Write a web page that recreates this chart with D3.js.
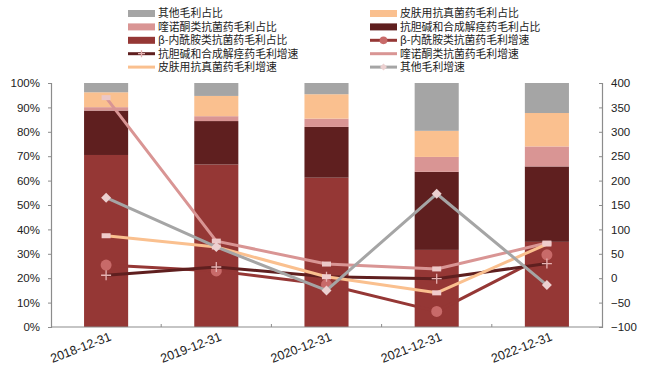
<!DOCTYPE html>
<html>
<head>
<meta charset="utf-8">
<script src="https://cdn.jsdelivr.net/npm/d3@7"></script>
<style>
  html, body { margin: 0; padding: 0; background: #fff; }
  svg { display: block; }
  text { font-family: "Liberation Sans", Arial, "Noto Sans CJK SC", sans-serif; fill: #222; }
  .cjk { font-family: "Noto Sans CJK SC", "Liberation Sans", sans-serif; }
</style>
</head>
<body>
<svg id="chart" width="648" height="367"></svg>
<script>
// Reporting periods
const categories = ["2018-12-31", "2019-12-31", "2020-12-31", "2021-12-31", "2022-12-31"];

// Gross-profit share by product line (%)
const shareBeta  = [70.5, 66.6, 61.2, 31.6, 34.9];
const shareAnti  = [18.2, 17.8, 20.8, 32.0, 30.9];
const shareQuin  = [1.4, 2.0, 3.4, 6.1, 8.2];
const shareSkin  = [6.1, 8.3, 10.0, 10.7, 13.7];
const shareOther = [3.8, 5.3, 4.6, 19.6, 12.3];

// Gross-profit growth by product line (%)
const growthBeta  = [27, 15, -13, -68, 48];
const growthAnti  = [6, 23, 3, -1, 30];
const growthQuin  = [370, 76, 29, 19, 72];
const growthSkin  = [87, 64, 3, -30, 70];
const growthOther = [165, 64, -25, 173, -14];

// Axis ticks
const leftTicks  = [0, 10, 20, 30, 40, 50, 60, 70, 80, 90, 100];
const rightTicks = [-100, -50, 0, 50, 100, 150, 200, 250, 300, 350, 400];

const barSeries = [
  { name: "β-内酰胺类抗菌药毛利占比", values: shareBeta,  color: "#953735" },
  { name: "抗胆碱和合成解痉药毛利占比", values: shareAnti,  color: "#5f1f1f" },
  { name: "喹诺酮类抗菌药毛利占比",   values: shareQuin,  color: "#d99594" },
  { name: "皮肤用抗真菌药毛利占比",   values: shareSkin,  color: "#fac08f" },
  { name: "其他毛利占比",             values: shareOther, color: "#a5a5a5" }
];

const lineSeries = [
  { name: "β-内酰胺类抗菌药毛利增速", values: growthBeta,  color: "#953735", marker: "circle",  mcolor: "#c86a69" },
  { name: "抗胆碱和合成解痉药毛利增速", values: growthAnti,  color: "#5f1f1f", marker: "plus",    mcolor: "#e6b2b2" },
  { name: "喹诺酮类抗菌药毛利增速",   values: growthQuin,  color: "#d99594", marker: "square",  mcolor: "#ecc8c8" },
  { name: "皮肤用抗真菌药毛利增速",   values: growthSkin,  color: "#fac08f", marker: "square",  mcolor: "#f0cccc" },
  { name: "其他毛利增速",             values: growthOther, color: "#a5a5a5", marker: "diamond", mcolor: "#ecd0d0" }
];

const svg = d3.select("#chart");
const m = { left: 51, right: 46, top: 83, bottom: 40 };
const W = 648, H = 367;
const x0 = m.left, x1 = W - m.right, y0 = H - m.bottom, y1 = m.top;

const xBand = d3.scaleBand().domain(categories).range([x0, x1]);
const yL = d3.scaleLinear().domain([0, 100]).range([y0, y1]);
const yR = d3.scaleLinear().domain([-100, 400]).range([y0, y1]);
const barW = xBand.bandwidth() * 0.4;

// Stacked bars
const stackData = categories.map((c, i) => {
  const row = { cat: c };
  barSeries.forEach(s => row[s.name] = s.values[i]);
  return row;
});
const stack = d3.stack().keys(barSeries.map(s => s.name))(stackData);
const barG = svg.append("g");
stack.forEach((layer, k) => {
  barG.selectAll(null).data(layer).enter().append("rect")
    .attr("x", d => xBand(d.data.cat) + xBand.bandwidth() / 2 - barW / 2)
    .attr("width", barW)
    .attr("y", d => yL(d[1]))
    .attr("height", d => yL(d[0]) - yL(d[1]))
    .attr("fill", barSeries[k].color);
});

// Axes
const axisColor = "#8c8c8c";
const gL = svg.append("g").attr("transform", `translate(${x0},0)`)
  .call(d3.axisLeft(yL).tickValues(leftTicks).tickFormat(d => d + "%").tickSize(3).tickPadding(8));
const gR = svg.append("g").attr("transform", `translate(${x1},0)`)
  .call(d3.axisRight(yR).tickValues(rightTicks).tickFormat(d3.format("d")).tickSize(-3).tickPadding(9));
const gB = svg.append("g").attr("transform", `translate(0,${y0})`)
  .call(d3.axisBottom(xBand).tickSize(0).tickFormat(""));
[gL, gR, gB].forEach(g => {
  g.select(".domain").attr("stroke", axisColor).attr("stroke-width", 1.2);
  g.selectAll(".tick line").attr("stroke", axisColor);
  g.selectAll("text").style("font-family", "'Liberation Sans', Arial, sans-serif")
    .style("font-size", "11.5px").attr("fill", "#222");
});
gB.select(".domain").attr("d", `M${x0},0H${x1}`);
// interior category separators on the baseline
svg.append("g").selectAll("line")
  .data(categories.slice(1)).enter().append("line")
  .attr("x1", d => xBand(d)).attr("x2", d => xBand(d))
  .attr("y1", y0).attr("y2", y0 - 3)
  .attr("stroke", axisColor);

// Rotated category labels
svg.append("g").selectAll("text")
  .data(categories).enter().append("text")
  .attr("transform", d => `translate(${xBand(d) + xBand.bandwidth() / 2 + 6},${y0 + 13}) rotate(-21)`)
  .attr("text-anchor", "end")
  .style("font-size", "12.5px")
  .attr("fill", "#333")
  .text(d => d);

// Growth lines
const cx = c => xBand(c) + xBand.bandwidth() / 2;
const lineGen = d3.line().x((d, i) => cx(categories[i])).y(d => yR(d));

function drawMarker(g, type, px, py, color, scale) {
  const s = scale || 1;
  if (type === "circle") {
    g.append("circle").attr("cx", px).attr("cy", py).attr("r", 5.5 * s).attr("fill", color);
  } else if (type === "plus") {
    g.append("path").attr("d", `M${px - 5 * s},${py}H${px + 5 * s}M${px},${py - 5 * s}V${py + 5 * s}`)
      .attr("stroke", color).attr("stroke-width", 1.3);
  } else if (type === "square") {
    g.append("rect").attr("x", px - 4.5 * s).attr("y", py - 2.5 * s)
      .attr("width", 9 * s).attr("height", 5 * s).attr("fill", color);
  } else if (type === "diamond") {
    const r = 5 * s;
    g.append("path").attr("d", `M${px},${py - r}L${px + r},${py}L${px},${py + r}L${px - r},${py}Z`)
      .attr("fill", color);
  }
}

const lineG = svg.append("g");
lineSeries.forEach(s => {
  const g = lineG.append("g");
  g.append("path").datum(s.values)
    .attr("d", lineGen)
    .attr("fill", "none")
    .attr("stroke", s.color)
    .attr("stroke-width", 3)
    .attr("stroke-linejoin", "round");
  s.values.forEach((v, i) => drawMarker(g, s.marker, cx(categories[i]), yR(v), s.mcolor));
});

// Legend: two columns, bar entries and line entries interleaved as listed
const legendItems = [
  { s: barSeries[4], kind: "bar" },  { s: barSeries[3], kind: "bar" },
  { s: barSeries[2], kind: "bar" },  { s: barSeries[1], kind: "bar" },
  { s: barSeries[0], kind: "bar" },  { s: lineSeries[0], kind: "line" },
  { s: lineSeries[1], kind: "line" }, { s: lineSeries[2], kind: "line" },
  { s: lineSeries[3], kind: "line" }, { s: lineSeries[4], kind: "line" }
];
const legG = svg.append("g");
const colX = [128, 370], rowY0 = 13.5, rowH = 13.4, swW = 27;
legendItems.forEach((it, i) => {
  const col = i % 2, row = Math.floor(i / 2);
  const lx = colX[col], ly = rowY0 + row * rowH;
  const g = legG.append("g");
  if (it.kind === "bar") {
    g.append("rect").attr("x", lx).attr("y", ly - 3.5).attr("width", swW).attr("height", 7)
      .attr("fill", it.s.color);
  } else {
    g.append("line").attr("x1", lx).attr("x2", lx + swW).attr("y1", ly).attr("y2", ly)
      .attr("stroke", it.s.color).attr("stroke-width", 3);
    if (it.s.marker !== "square") drawMarker(g, it.s.marker, lx + swW / 2, ly, it.s.mcolor, 0.7);
  }
  g.append("text").attr("class", "cjk")
    .attr("x", lx + swW + 3).attr("y", ly).attr("dy", "0.36em")
    .style("font-size", "10.8px").attr("fill", "#222")
    .text(it.s.name);
});
</script>
</body>
</html>
